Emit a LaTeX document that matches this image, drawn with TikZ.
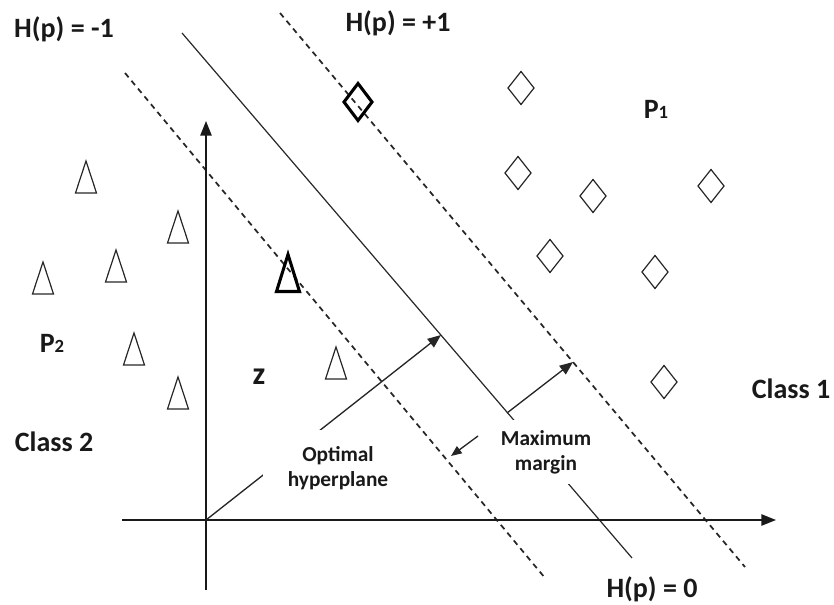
\documentclass[tikz,border=0pt]{standalone}
\usepackage{fontspec}
\setmainfont{Carlito}
\usetikzlibrary{arrows.meta}
\tikzset{
  px/.style={x=0.75pt,y=-0.75pt},
  thinline/.style={line width=0.9pt,draw=black!85},
  dashline/.style={line width=1.3pt,draw=black!85,dash pattern=on 4.2pt off 3.4pt},
  axisline/.style={line width=1.2pt,draw=black!90,-{Triangle[length=11pt,width=8.5pt]}},
  arrowline/.style={line width=1pt,draw=black!85,-{Triangle[length=10pt,width=8pt]}},
  smallarrow/.style={line width=1pt,draw=black!85,-{Triangle[length=8pt,width=6.5pt]}},
  biglabel/.style={font=\bfseries\fontsize{21}{25}\selectfont,inner sep=0pt,text=black!90},
  smalllabel/.style={font=\bfseries\fontsize{16}{18.75}\selectfont,align=center,fill=white,inner sep=0pt,text=black!90},
  tri/.pic={\draw[line width=0.9pt,black!85] (-10.5,16) -- (0,-16) -- (10.5,16) -- cycle;},
  boldtri/.pic={\draw[line width=2.3pt,black,line join=miter] (-11.5,18.5) -- (0,-18.5) -- (11.5,18.5) -- cycle;},
  dia/.pic={\draw[line width=0.9pt,black!85] (-13,0) -- (0,-16.5) -- (13,0) -- (0,16.5) -- cycle;},
  boldDia/.pic={\draw[line width=2.3pt,black,line join=miter] (-14,0) -- (0,-18.5) -- (14,0) -- (0,18.5) -- cycle;}
}
\begin{document}
\begin{tikzpicture}[px]
\useasboundingbox (0,0) rectangle (834,605);
% key coordinates
\coordinate (xs) at (122,520);
\coordinate (xe) at (776,520);
\coordinate (ys) at (206,590);
\coordinate (ye) at (206,121);
\coordinate (O) at (206,520);
\coordinate (s1) at (182,33);
\coordinate (s2) at (632,558);
\coordinate (u1) at (280,13);
\coordinate (u2) at (745,567);
\coordinate (l1) at (125,73);
\coordinate (l2) at (545,578);
\coordinate (a1) at (441,335);
\coordinate (c) at (507,413);
\coordinate (a2) at (573,362);
\coordinate (m1) at (478,436);
\coordinate (m2) at (451,456);
% lines
\draw[thinline] (s1) -- (s2);
\draw[dashline] (u1) -- (u2);
\draw[dashline] (l1) -- (l2);
\draw[axisline] (xs) -- (xe);
\draw[axisline] (ys) -- (ye);
\draw[arrowline] (O) -- (a1);
\draw[arrowline] (c) -- (a2);
\draw[smallarrow] (m1) -- (m2);
% class 2 triangles
\pic (t1) at (86,177) {tri};
\pic (t2) at (178,227) {tri};
\pic (t3) at (116,266) {tri};
\pic (t4) at (43,278) {tri};
\pic (t5) at (134,349) {tri};
\pic (t6) at (178,393) {tri};
\pic (t7) at (336,363) {tri};
\pic (tb) at (288,273) {boldtri};
% class 1 diamonds
\pic (d1) at (521,88) {dia};
\pic (d2) at (518,173) {dia};
\pic (d3) at (593,196) {dia};
\pic (d4) at (711,186) {dia};
\pic (d5) at (550,256) {dia};
\pic (d6) at (655,272) {dia};
\pic (d7) at (664,382) {dia};
\pic (db) at (358,102) {boldDia};
% labels
\node[biglabel] (hm) at (64,29) {H(p) = -1};
\node[biglabel] (hp) at (398,23) {H(p) = +1};
\node[biglabel] (h0) at (652,589) {H(p) = 0};
\node[biglabel] (p1) at (656,109) {P{\fontsize{14}{14}\selectfont 1}};
\node[biglabel] (p2) at (52,343) {P{\fontsize{14}{14}\selectfont 2}};
\node[biglabel] (c2) at (54,442) {Class 2};
\node[biglabel] (c1) at (791,389) {Class 1};
\node[biglabel,font=\bfseries\fontsize{24}{26}\selectfont] (z) at (259,377) {z};
\node[smalllabel,minimum width=112.5pt,minimum height=57pt] (opt) at (338,468) {Optimal\\hyperplane};
\node[smalllabel,minimum width=100.5pt,minimum height=48pt] (mm) at (546,452) {Maximum\\margin};
\end{tikzpicture}
\end{document}
